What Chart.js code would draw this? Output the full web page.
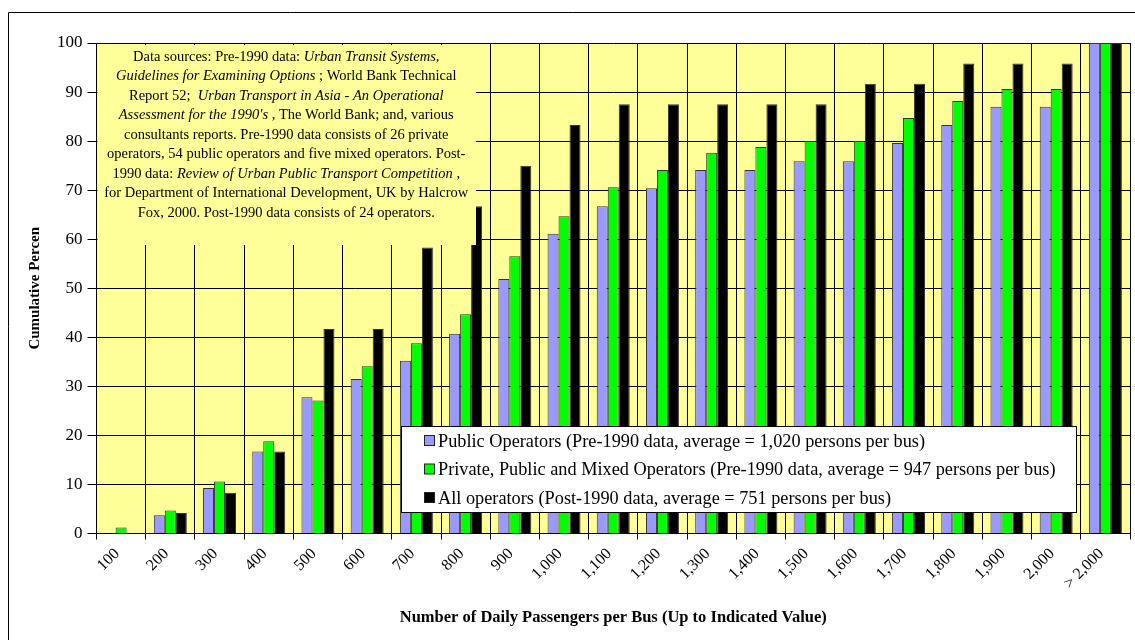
<!DOCTYPE html>
<html>
<head>
<meta charset="utf-8">
<script src="https://cdn.jsdelivr.net/npm/chart.js@4/dist/chart.umd.min.js"></script>
<style>
  html, body { margin: 0; padding: 0; background: #ffffff; }
  #wrap { width: 1135px; height: 640px; }
</style>
</head>
<body>
<div id="wrap"><canvas id="c" width="1135" height="640"></canvas></div>
<script>
// Daily passengers per bus, upper bound of each band
const categories = ['100', '200', '300', '400', '500', '600', '700', '800', '900', '1,000',
  '1,100', '1,200', '1,300', '1,400', '1,500', '1,600', '1,700', '1,800', '1,900', '2,000', '> 2,000'];

// Cumulative percentage of operators in each group
const publicPre1990 = [0, 3.7, 9.3, 16.7, 27.8, 31.5, 35.2, 40.7, 51.9, 61.1, 66.7,
  70.4, 74.1, 74.1, 75.9, 75.9, 79.6, 83.3, 87.0, 87.0, 100];
const mixedPre1990 = [1.2, 4.7, 10.6, 18.8, 27.1, 34.1, 38.8, 44.7, 56.5, 64.7, 70.6,
  74.1, 77.6, 78.8, 80.0, 80.0, 84.7, 88.2, 90.6, 90.6, 100];
const allPost1990 = [0, 4.2, 8.3, 16.7, 41.7, 41.7, 58.3, 66.7, 75.0, 83.3, 87.5,
  87.5, 87.5, 87.5, 87.5, 91.7, 91.7, 95.8, 95.8, 95.8, 100];

const seriesLabels = [
  'Public Operators (Pre-1990 data, average = 1,020 persons per bus)',
  'Private, Public and Mixed Operators (Pre-1990 data, average = 947 persons per bus)',
  'All operators (Post-1990 data, average = 751 persons per bus)'
];

const yTicks = [0, 10, 20, 30, 40, 50, 60, 70, 80, 90, 100];

// Source note: each line is a list of [text, italic] runs
const sourceNote = [
  [['Data sources: Pre-1990 data: ', false], ['Urban Transit Systems,', true]],
  [['Guidelines for Examining Options', true], [' ; World Bank Technical', false]],
  [['Report 52;  ', false], ['Urban Transport in Asia - An Operational', true]],
  [['Assessment for the 1990\'s', true], [' , The World Bank; and, various', false]],
  [['consultants reports. Pre-1990 data consists of 26 private', false]],
  [['operators, 54 public operators and five mixed operators. Post-', false]],
  [['1990 data: ', false], ['Review of Urban Public Transport Competition', true], [' ,', false]],
  [['for Department of International Development, UK by Halcrow', false]],
  [['Fox, 2000. Post-1990 data consists of 24 operators.', false]]
];

const SERIF = '"Liberation Serif", "Times New Roman", serif';
const PLOT_BG = '#FFFF99';

// Frame lines and the pale yellow plot background
const backdrop = {
  id: 'backdrop',
  beforeDraw(chart) {
    const { ctx, chartArea: a } = chart;
    ctx.save();
    ctx.fillStyle = '#ffffff';
    ctx.fillRect(0, 0, chart.width, chart.height);
    ctx.strokeStyle = '#000000';
    ctx.lineWidth = 1;
    ctx.beginPath();
    ctx.moveTo(8.5, chart.height + 5);
    ctx.lineTo(8.5, 12.5);
    ctx.lineTo(chart.width + 5, 12.5);
    ctx.stroke();
    ctx.fillStyle = PLOT_BG;
    ctx.fillRect(a.left, a.top, a.right - a.left, a.bottom - a.top);
    ctx.restore();
  }
};

// Source note box in the top-left corner of the plot
const noteBox = {
  id: 'noteBox',
  afterDatasetsDraw(chart) {
    const { ctx, chartArea: a } = chart;
    const x0 = a.left + 1, y0 = a.top + 2, x1 = 476, y1 = 245;
    ctx.save();
    ctx.fillStyle = PLOT_BG;
    ctx.fillRect(x0, y0, x1 - x0, y1 - y0);
    const cx = (a.left + x1) / 2;
    const regular = '14.5px ' + SERIF;
    const italic = 'italic 14.5px ' + SERIF;
    ctx.fillStyle = '#000000';
    ctx.textBaseline = 'middle';
    ctx.textAlign = 'left';
    sourceNote.forEach((runs, i) => {
      const y = 57 + i * 19.5;
      let w = 0;
      runs.forEach(([t, it]) => { ctx.font = it ? italic : regular; w += ctx.measureText(t).width; });
      let x = cx - w / 2;
      runs.forEach(([t, it]) => {
        ctx.font = it ? italic : regular;
        ctx.fillText(t, x, y);
        x += ctx.measureText(t).width;
      });
    });
    ctx.restore();
  }
};

// Legend panel drawn inside the plot
const legendPanel = {
  id: 'legendPanel',
  afterDatasetsDraw(chart) {
    const { ctx } = chart;
    const x0 = 401, y0 = 426, x1 = 1077, y1 = 513;
    ctx.save();
    ctx.fillStyle = '#ffffff';
    ctx.fillRect(x0, y0, x1 - x0, y1 - y0);
    ctx.strokeStyle = '#000000';
    ctx.lineWidth = 1;
    ctx.strokeRect(x0 + 0.5, y0 + 0.5, x1 - x0 - 1, y1 - y0 - 1);
    ctx.font = '18.3px ' + SERIF;
    ctx.textBaseline = 'middle';
    ctx.textAlign = 'left';
    chart.data.datasets.forEach((ds, i) => {
      const y = 441 + i * 28.5;
      ctx.fillStyle = ds.backgroundColor;
      ctx.fillRect(424.5, y - 5.5, 10, 10);
      ctx.strokeStyle = '#222222';
      ctx.strokeRect(424.5, y - 5.5, 10, 10);
      ctx.fillStyle = '#000000';
      ctx.fillText(ds.label, 438, y + 1);
    });
    ctx.restore();
  }
};

const barStyle = { borderColor: '#333333', borderWidth: 1, categoryPercentage: 0.67, barPercentage: 1.0 };

new Chart(document.getElementById('c'), {
  type: 'bar',
  data: {
    labels: categories,
    datasets: [
      Object.assign({ label: seriesLabels[0], data: publicPre1990, backgroundColor: '#9999FF' }, barStyle),
      Object.assign({ label: seriesLabels[1], data: mixedPre1990, backgroundColor: '#00FF00' }, barStyle),
      Object.assign({ label: seriesLabels[2], data: allPost1990, backgroundColor: '#000000' }, barStyle)
    ]
  },
  options: {
    responsive: false,
    animation: false,
    devicePixelRatio: 1,
    layout: { padding: { left: 0, top: 43, right: 5, bottom: 0 } },
    plugins: {
      legend: { display: false },
      tooltip: { enabled: false }
    },
    scales: {
      x: {
        offset: true,
        grid: { display: true, offset: true, color: '#000000', lineWidth: 1, tickLength: 6, drawOnChartArea: true },
        border: { display: true, color: '#000000', width: 1 },
        ticks: {
          color: '#000000',
          font: { family: SERIF, size: 16 },
          minRotation: 45, maxRotation: 45,
          autoSkip: false, padding: 5, labelOffset: -4
        },
        title: {
          display: true,
          text: 'Number of Daily Passengers per Bus (Up to Indicated Value)',
          color: '#000000',
          font: { family: SERIF, size: 16.5, weight: 'bold' },
          padding: { top: 0, bottom: 12 }
        },
        afterFit(scale) { scale.height = 106.5; }
      },
      y: {
        min: 0, max: 100,
        afterBuildTicks(scale) { scale.ticks = yTicks.map(v => ({ value: v })); },
        grid: { color: '#000000', lineWidth: 1, tickLength: 9 },
        border: { display: true, color: '#000000', width: 1 },
        ticks: {
          color: '#000000',
          font: { family: SERIF, size: 17 },
          padding: 5
        },
        title: {
          display: true,
          text: 'Cumulative Percen',
          color: '#000000',
          font: { family: SERIF, size: 15, weight: 'bold' },
          padding: { top: 26, bottom: 0 }
        },
        afterFit(scale) { scale.width = 96.5; }
      }
    }
  },
  plugins: [backdrop, noteBox, legendPanel]
});
</script>
</body>
</html>
